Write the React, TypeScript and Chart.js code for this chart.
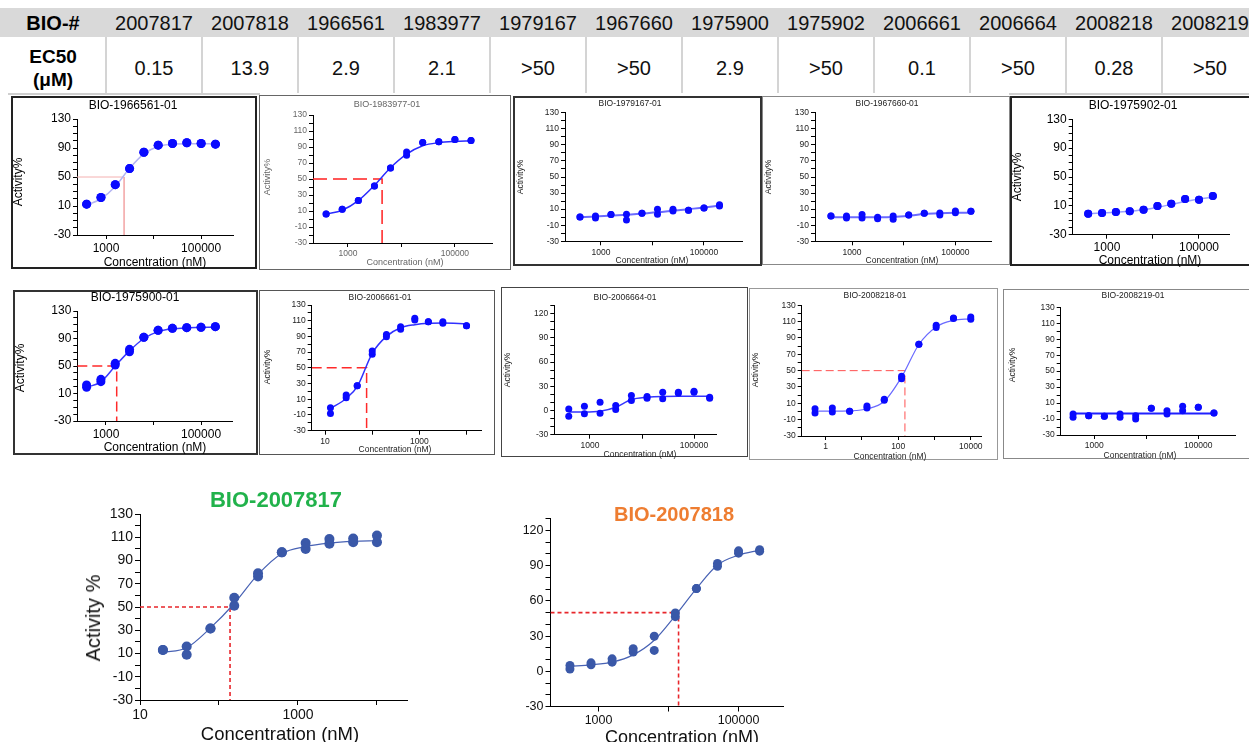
import React, { useEffect, useRef } from "react";
import { Chart, registerables } from "chart.js";
Chart.register(...registerables);

const FONT = "'Liberation Sans', Arial, Helvetica, sans-serif";

// ---------- table ----------
const tableIds = ["2007817", "2007818", "1966561", "1983977", "1979167", "1967660", "1975900", "1975902", "2006661", "2006664", "2008218", "2008219"];
const tableEC50 = ["0.15", "13.9", "2.9", "2.1", ">50", ">50", "2.9", ">50", "0.1", ">50", "0.28", ">50"];

// ---------- concentrations (nM) ----------
const concStd = [390.6, 781.3, 1562.5, 3125, 6250, 12500, 25000, 50000, 100000, 200000];
const conc2007817 = [19.5, 39, 78, 156, 312, 625, 1250, 2500, 5000, 10000];
const conc2006661 = [13, 28, 48, 100, 200, 400, 800, 1550, 3150, 10000];
const conc2008218 = [0.508, 1.524, 4.572, 13.72, 41.15, 123.5, 370.4, 1111, 3333, 10000];

// ---------- activity % (two replicates) and fitted curve ----------
const act1966561A = [12.5, 21.8, 39.4, 61.6, 84.2, 93.9, 96.2, 97.2, 96.2, 95.3];
const act1966561B = [12.5, 21.8, 39.4, 61.6, 84.2, 93.9, 96.2, 97.2, 96.2, 95.3];
const fit1966561 = [11, 20, 37, 62, 82, 92, 95.5, 96, 96, 96];

const act1983977A = [6.4, 12.2, 23.1, 41.2, 63.8, 83.9, 95.7, 96.5, 99.4, 98.2];
const act1983977B = [6.4, 12.2, 23.1, 41.2, 63.8, 79.8, 95.7, 96.5, 99.4, 98.2];
const fit1983977 = [6, 11, 23, 42, 64, 81, 91.5, 95.5, 97, 97.5];

const act1979167A = [0.3, 1.5, 3.2, 3.6, 4.8, 9.8, 9.8, 8.5, 11.5, 15.6];
const act1979167B = [0.3, -1, 3.2, -3.5, 4.8, 3.6, 7.7, 8.5, 11.5, 14];
const fit1979167 = [0, 0.8, 2, 3, 4.5, 6, 8, 10, 12, 14.5];

const act1967660A = [1.5, 1.5, 3.2, -0.2, 1.5, 2.7, 4.8, 5.2, 7.7, 7.3];
const act1967660B = [1.5, -1, -1, -1.8, -2.6, 2.7, 4.8, 2.7, 5.6, 7.3];
const fit1967660 = [0, 0, 0, 0, 0.3, 1.8, 4, 5, 5.5, 5.6];

const act1975902A = [-0.9, 0.1, 1.4, 2.4, 4.7, 9.8, 13, 19.5, 18.6, 23.6];
const act1975902B = [-0.9, 0.1, 1.4, 2.4, 4.7, 9.8, 13, 19.5, 18.6, 23.6];
const fit1975902 = [-1, 0, 1, 2.5, 4.5, 8, 12, 16, 19.5, 22];

const act1975900A = [22.4, 30.6, 53.9, 74.2, 91.7, 101.9, 104.8, 105.8, 106.2, 107.2];
const act1975900B = [19, 27.2, 51.4, 70.8, 91.7, 101.9, 104.8, 105.8, 106.2, 107.2];
const fit1975900 = [19, 27, 50, 72, 90, 100, 104, 105.5, 106, 106.5];

const act2006661A = [-0.7, 15.4, 27.3, 71.4, 92.6, 102.4, 113, 108.8, 108.8, 103.7];
const act2006661B = [-8, 12, 27.3, 67.2, 89.7, 99, 110.9, 108.8, 106.7, 103.7];
const fit2006661 = [-1.6, 11, 26, 68.5, 90, 101, 105, 106.7, 107, 106];

const act2006664A = [2, 5.4, 10.3, 6.2, 18.6, 17.4, 22.7, 22.7, 24, 16.5];
const act2006664B = [-7, -4, -3.3, 1.2, 12.4, 15.3, 14.5, 21.5, 22.7, 15.3];
const fit2006664 = [-2, -2, -1, 4, 13.6, 16.5, 17.4, 17.5, 17.5, 17.5];

const act2008218A = [3.5, 4.3, 0.2, 6.7, 14.9, 43, 82.2, 105.5, 114.5, 115.7];
const act2008218B = [-1.8, -0.6, 0.2, 4.3, 13.7, 40.2, 82.2, 102.7, 113.7, 112.9];
const fit2008218 = [0.5, 0.5, 0.8, 3, 12.5, 42, 82, 103.5, 111.5, 113.5];

const act2008219A = [-3.7, -5.8, -6.6, -3.7, -5.8, 3.4, 0.5, 5.9, 4.7, -2.4];
const act2008219B = [-7.8, -5.8, -6.6, -7.8, -9.9, 3.4, -3.7, 0.5, 4.7, -2.4];
const fit2008219 = [-3, -3, -3, -3, -3, -3, -3, -3, -3, -3];

const act2007817A = [13, 16, 31.5, 58, 79, 97, 105, 108.5, 109, 111.4];
const act2007817B = [13, 9, 31.5, 51, 76.3, 97, 100, 104.5, 105.7, 105.7];
const fit2007817 = [11, 15, 32, 53, 78, 96, 102, 105, 106.5, 107];

const act2007818A = [5, 7.2, 10.6, 19.3, 29.9, 49.8, 70.5, 92, 102.7, 103.6];
const act2007818B = [2, 5.5, 7.8, 16.4, 17.8, 46.6, 70.5, 89.5, 100.7, 102.4];
const fit2007818 = [4.3, 5.5, 7.8, 14, 26.5, 47.5, 70.5, 90.6, 99, 103.3];

// ---------- EC50 guide lines (nM, where drawn) ----------
const ecLine1966561 = 2400;
const ecLine1983977 = 4350;
const ecLine1975900 = 1680;
const ecLine2006661 = 76;
const ecLine2008218 = 153;
const ecLine2007817 = 138;
const ecLine2007818 = 13900;

// ---------- tick labels ----------
const yLabels20 = [130, 110, 90, 70, 50, 30, 10, -10, -30];
const yLabels40 = [130, 90, 50, 10, -30];
const yLabels30 = [120, 90, 60, 30, 0, -30];
const xTicksStd = [1000, 10000, 100000];
const xLabelsStd = [1000, 100000];
const xTicks10 = [10, 100, 1000, 10000];
const xLabels10 = [10, 1000];
const xTicks1 = [1, 10, 100, 1000, 10000];
const xLabels1 = [1, 100, 10000];

type Spec = any;

const small = { tickSize: 8.5, labelSize: 8.5, titleSize: 8.5, textColor: "#222", tickLen: 4, yAxisW: 30, xAxisH: 16, dotColor: "#0a0aff", dotR: 3.5 };
const large = { tickSize: 12, labelSize: 12, titleSize: 12, textColor: "#000", tickLen: 4, yAxisW: 34, xAxisH: 18, dotColor: "#0a0aff", dotR: 4.5 };

const panels: Spec[] = [
  { ...large, title: "BIO-1966561-01", box: [11, 96, 246, 173], border: "2px solid #222", titlePos: [133, 105], yTitlePos: [18, 182], xTitlePos: [155, 262],
    plot: [77, 119, 233, 235], xMin: 245, xMax: 468000, xTicks: xTicksStd, xLabels: xLabelsStd, yLabels: yLabels40,
    conc: concStd, repA: act1966561A, repB: act1966561B, fit: fit1966561, fitColor: "#b4b4f2", fitWidth: 1.5,
    ec: ecLine1966561, ecColor: "#f4b0b0", ecDash: [], ecWidth: 1 },
  { ...small, title: "BIO-1983977-01", box: [259, 95, 252, 175], border: "1px solid #666", titlePos: [387, 104], yTitlePos: [267, 177], xTitlePos: [405, 262],
    textColor: "#666", titleSize: 9, labelSize: 9,
    plot: [313, 115, 492, 243], xMin: 222, xMax: 494000, xTicks: xTicksStd, xLabels: xLabelsStd, yLabels: yLabels20,
    conc: concStd, repA: act1983977A, repB: act1983977B, fit: fit1983977, fitColor: "#2a2aff", fitWidth: 1.5,
    ec: ecLine1983977, ecColor: "#ff2020", ecDash: [14, 6], ecWidth: 1.5 },
  { ...small, title: "BIO-1979167-01", box: [513, 96, 249, 170], border: "2px solid #333", titlePos: [630, 103], yTitlePos: [520, 177], xTitlePos: [652, 259.6],
    plot: [565, 112.7, 742, 241.3], xMin: 200, xMax: 547000, xTicks: xTicksStd, xLabels: xLabelsStd, yLabels: yLabels20,
    conc: concStd, repA: act1979167A, repB: act1979167B, fit: fit1979167, fitColor: "#6b6bff", fitWidth: 2 },
  { ...small, title: "BIO-1967660-01", box: [762, 96, 248, 169], border: "1px solid #888", titlePos: [887, 103], yTitlePos: [768, 177], xTitlePos: [902, 259.6],
    plot: [815, 112.7, 991, 241.3], xMin: 192, xMax: 489000, xTicks: xTicksStd, xLabels: xLabelsStd, yLabels: yLabels20,
    conc: concStd, repA: act1967660A, repB: act1967660B, fit: fit1967660, fitColor: "#6b6bff", fitWidth: 2 },
  { ...large, title: "BIO-1975902-01", box: [1010, 96, 245, 170], border: "2px solid #222", titlePos: [1133, 104.7], yTitlePos: [1017, 177], xTitlePos: [1150, 259.7],
    dotR: 4, plot: [1072.7, 119.3, 1229.3, 234.7], xMin: 180, xMax: 456000, xTicks: xTicksStd, xLabels: xLabelsStd, yLabels: yLabels40,
    conc: concStd, repA: act1975902A, repB: act1975902B, fit: fit1975902, fitColor: "#9aa0ff", fitWidth: 1.5 },
  { ...large, title: "BIO-1975900-01", box: [13, 290, 245, 165], border: "2px solid #333", titlePos: [135, 297.3], yTitlePos: [20, 368], xTitlePos: [155, 447],
    plot: [77.3, 311, 232.7, 421], xMin: 249, xMax: 464000, xTicks: xTicksStd, xLabels: xLabelsStd, yLabels: yLabels40,
    conc: concStd, repA: act1975900A, repB: act1975900B, fit: fit1975900, fitColor: "#3a3aff", fitWidth: 1.5,
    ec: ecLine1975900, ecColor: "#ff2a2a", ecDash: [10, 5], ecWidth: 1.5 },
  { ...small, title: "BIO-2006661-01", box: [259, 290, 236, 165], border: "1px solid #555", titlePos: [380, 296.7], yTitlePos: [266.7, 366.7], xTitlePos: [395, 449],
    plot: [311.7, 305, 481.7, 430.7], xMin: 5.2, xMax: 21000, xTicks: xTicks10, xLabels: xLabels10, yLabels: yLabels20,
    conc: conc2006661, repA: act2006661A, repB: act2006661B, fit: fit2006661, fitColor: "#3030ff", fitWidth: 1.5,
    ec: ecLine2006661, ecColor: "#ff2a2a", ecDash: [10, 5], ecWidth: 1.5 },
  { ...small, title: "BIO-2006664-01", box: [501, 287, 247, 170], border: "1.5px solid #444", titlePos: [625, 297], yTitlePos: [506.7, 370], xTitlePos: [640, 453.7],
    plot: [554.3, 305.6, 716.7, 434.7], xMin: 206, xMax: 273000, xTicks: xTicksStd, xLabels: xLabelsStd, yLabels: yLabels30,
    conc: concStd, repA: act2006664A, repB: act2006664B, fit: fit2006664, fitColor: "#3535ff", fitWidth: 1.5 },
  { ...small, title: "BIO-2008218-01", box: [749, 288, 249, 172], border: "1px solid #999", titlePos: [875, 295.3], yTitlePos: [755, 370], xTitlePos: [890, 456],
    plot: [801.7, 305.3, 981.7, 436], xMin: 0.218, xMax: 20000, xTicks: xTicks1, xLabels: xLabels1, yLabels: yLabels20,
    conc: conc2008218, repA: act2008218A, repB: act2008218B, fit: fit2008218, fitColor: "#6a6aff", fitWidth: 1.2,
    ec: ecLine2008218, ecColor: "#ff5050", ecDash: [8, 4], ecWidth: 1 },
  { ...small, title: "BIO-2008219-01", box: [1003, 288.7, 250, 170], border: "1px solid #888", titlePos: [1133, 295], yTitlePos: [1011.7, 365], xTitlePos: [1140, 454.7],
    plot: [1060.7, 307, 1235, 434.7], xMin: 226, xMax: 508000, xTicks: xTicksStd, xLabels: xLabelsStd, yLabels: yLabels20,
    conc: concStd, repA: act2008219A, repB: act2008219B, fit: fit2008219, fitColor: "#2020ff", fitWidth: 2 },
  { title: "BIO-2007817", titleColor: "#21b24b", titleWeight: "bold", titleSize: 22, titlePos: [276, 500],
    yTitle: "Activity %", yTitlePos: [93, 618], yTitleSize: 20, xTitlePos: [280, 734], labelSize: 18.5, textColor: "#111",
    canvas: [90, 496, 335, 240], yAxisW: 38, xAxisH: 24, tickSize: 14, tickLen: 5,
    plot: [140, 514, 407, 700], xMin: 10, xMax: 24000, xTicks: xTicks10, xLabels: xLabels10, yLabels: yLabels20,
    conc: conc2007817, repA: act2007817A, repB: act2007817B, fit: fit2007817, fitColor: "#4862b4", fitWidth: 1.2,
    dotColor: "#3a58a8", dotR: 5, ec: ecLine2007817, ecColor: "#e8262b", ecDash: [4, 3], ecWidth: 1.6 },
  { title: "BIO-2007818", titleColor: "#ee7d31", titleWeight: "bold", titleSize: 20, titlePos: [674, 513.6],
    yTitle: null, xTitlePos: [682, 737], labelSize: 18, textColor: "#111",
    canvas: [505, 505, 290, 237], yAxisW: 36, xAxisH: 24, tickSize: 12.5, tickLen: 5,
    plot: [550.5, 518.8, 783.6, 706.5], xMin: 206, xMax: 440000, xTicks: xTicksStd, xLabels: xLabelsStd, yLabels: yLabels30,
    conc: concStd, repA: act2007818A, repB: act2007818B, fit: fit2007818, fitColor: "#4862b4", fitWidth: 1.2,
    dotColor: "#3a58a8", dotR: 4.5, ec: ecLine2007818, ecColor: "#e8262b", ecDash: [4, 3], ecWidth: 1.6 },
];

function Txt({ x, y, size, color, weight, rotate, children }: any) {
  return (
    <div style={{ position: "absolute", left: x, top: y, transform: `translate(-50%, -50%)${rotate ? " rotate(-90deg)" : ""}`,
      fontFamily: FONT, fontSize: size, color, fontWeight: weight || "normal", whiteSpace: "nowrap", lineHeight: 1 }}>
      {children}
    </div>
  );
}

function PlotCanvas({ s }: { s: Spec }) {
  const ref = useRef<HTMLCanvasElement>(null);
  const cv = s.canvas || s.box;
  const [cx, cy, cw, ch] = cv;
  useEffect(() => {
    const [pl, pt, pr, pb] = s.plot;
    const YW = s.yAxisW, XH = s.xAxisH;
    const pts = (ys: number[]) => s.conc.map((c: number, i: number) => ({ x: c, y: ys[i] }));
    const datasets: any[] = [
      { data: pts(s.repA), showLine: false, pointRadius: s.dotR, pointBackgroundColor: s.dotColor, pointBorderColor: s.dotColor, pointBorderWidth: 0, order: 0, clip: false },
      { data: pts(s.repB), showLine: false, pointRadius: s.dotR, pointBackgroundColor: s.dotColor, pointBorderColor: s.dotColor, pointBorderWidth: 0, order: 0, clip: false },
      { data: pts(s.fit), showLine: true, pointRadius: 0, borderColor: s.fitColor, borderWidth: s.fitWidth, cubicInterpolationMode: "monotone", order: 1 },
    ];
    if (s.ec) {
      datasets.push({ data: [{ x: s.xMin, y: 50 }, { x: s.ec, y: 50 }, { x: s.ec, y: -30 }], showLine: true, pointRadius: 0,
        borderColor: s.ecColor, borderWidth: s.ecWidth, borderDash: s.ecDash, tension: 0, order: 2 });
    }
    const font = { family: FONT, size: s.tickSize };
    const chart = new Chart(ref.current as HTMLCanvasElement, {
      type: "scatter",
      data: { datasets },
      options: {
        animation: false, responsive: false, devicePixelRatio: 1,
        layout: { padding: { left: pl - cx - YW, top: pt - cy, right: cx + cw - pr, bottom: cy + ch - pb - XH } },
        plugins: { legend: { display: false }, tooltip: { enabled: false }, title: { display: false } },
        scales: {
          x: {
            type: "logarithmic", min: s.xMin, max: s.xMax,
            afterBuildTicks: (sc: any) => { sc.ticks = s.xTicks.map((v: number) => ({ value: v })); },
            afterFit: (sc: any) => { sc.height = XH; },
            ticks: { autoSkip: false, maxRotation: 0, minRotation: 0, padding: 2, font, color: s.textColor,
              callback: (v: any) => (s.xLabels.includes(Number(v)) ? String(v) : "") },
            grid: { drawOnChartArea: false, drawTicks: true, tickLength: s.tickLen, color: "#000" },
            border: { display: true, color: "#000", width: 1 },
          },
          y: {
            type: "linear", min: -30, max: 130,
            afterFit: (sc: any) => { sc.width = YW; },
            ticks: { stepSize: 10, autoSkip: false, padding: 2, font, color: s.textColor,
              callback: (v: any) => (s.yLabels.includes(Number(v)) ? String(v) : "") },
            grid: { drawOnChartArea: false, drawTicks: true, tickLength: s.tickLen, color: "#000" },
            border: { display: true, color: "#000", width: 1 },
          },
        },
      } as any,
    });
    return () => chart.destroy();
  }, []);
  return <canvas ref={ref} width={cw} height={ch} style={{ position: "absolute", left: cx, top: cy, width: cw, height: ch }} />;
}

function Panel({ s }: { s: Spec }) {
  return (
    <>
      <PlotCanvas s={s} />
      {s.box && (
        <div style={{ position: "absolute", left: s.box[0], top: s.box[1], width: s.box[2], height: s.box[3], border: s.border, boxSizing: "border-box" }} />
      )}
      <Txt x={s.titlePos[0]} y={s.titlePos[1]} size={s.titleSize} color={s.titleColor || s.textColor} weight={s.titleWeight}>{s.title}</Txt>
      {s.yTitle !== null && (
        <Txt x={s.yTitlePos[0]} y={s.yTitlePos[1]} size={s.yTitleSize || s.labelSize} color={s.textColor} rotate>{s.yTitle || "Activity%"}</Txt>
      )}
      <Txt x={s.xTitlePos[0]} y={s.xTitlePos[1]} size={s.labelSize} color={s.textColor}>Concentration  (nM)</Txt>
    </>
  );
}

function Table() {
  const colX = (i: number) => 106 + 96 * i;
  return (
    <>
      <div style={{ position: "absolute", left: 0, top: 8, width: 1249, height: 29, background: "#d9d9d9" }} />
      <Txt x={53} y={22.5} size={20} color="#000" weight="bold">BIO-#</Txt>
      {tableIds.map((t, i) => (
        <Txt key={"h" + i} x={colX(i) + 48} y={22.5} size={20} color="#111">{t}</Txt>
      ))}
      <Txt x={53} y={56} size={19} color="#000" weight="bold">EC50</Txt>
      <Txt x={53} y={79} size={19} color="#000" weight="bold">(μM)</Txt>
      {tableEC50.map((t, i) => (
        <Txt key={"v" + i} x={colX(i) + 48} y={68} size={20} color="#111">{t}</Txt>
      ))}
      {tableIds.map((_, i) => (
        <div key={"s" + i} style={{ position: "absolute", left: colX(i) - 1, top: 37, width: 2, height: 56, background: "#d4d4d4" }} />
      ))}
      <div style={{ position: "absolute", left: 8, top: 93, width: 252, height: 1.5, background: "#cfcfcf" }} />
      <div style={{ position: "absolute", left: 1009, top: 93, width: 240, height: 1.5, background: "#cfcfcf" }} />
    </>
  );
}

export default function App() {
  return (
    <div style={{ position: "absolute", left: 0, top: 0, width: 1249, height: 742, overflow: "hidden", background: "#fff" }}>
      <Table />
      {panels.map((s, i) => <Panel key={i} s={s} />)}
    </div>
  );
}
